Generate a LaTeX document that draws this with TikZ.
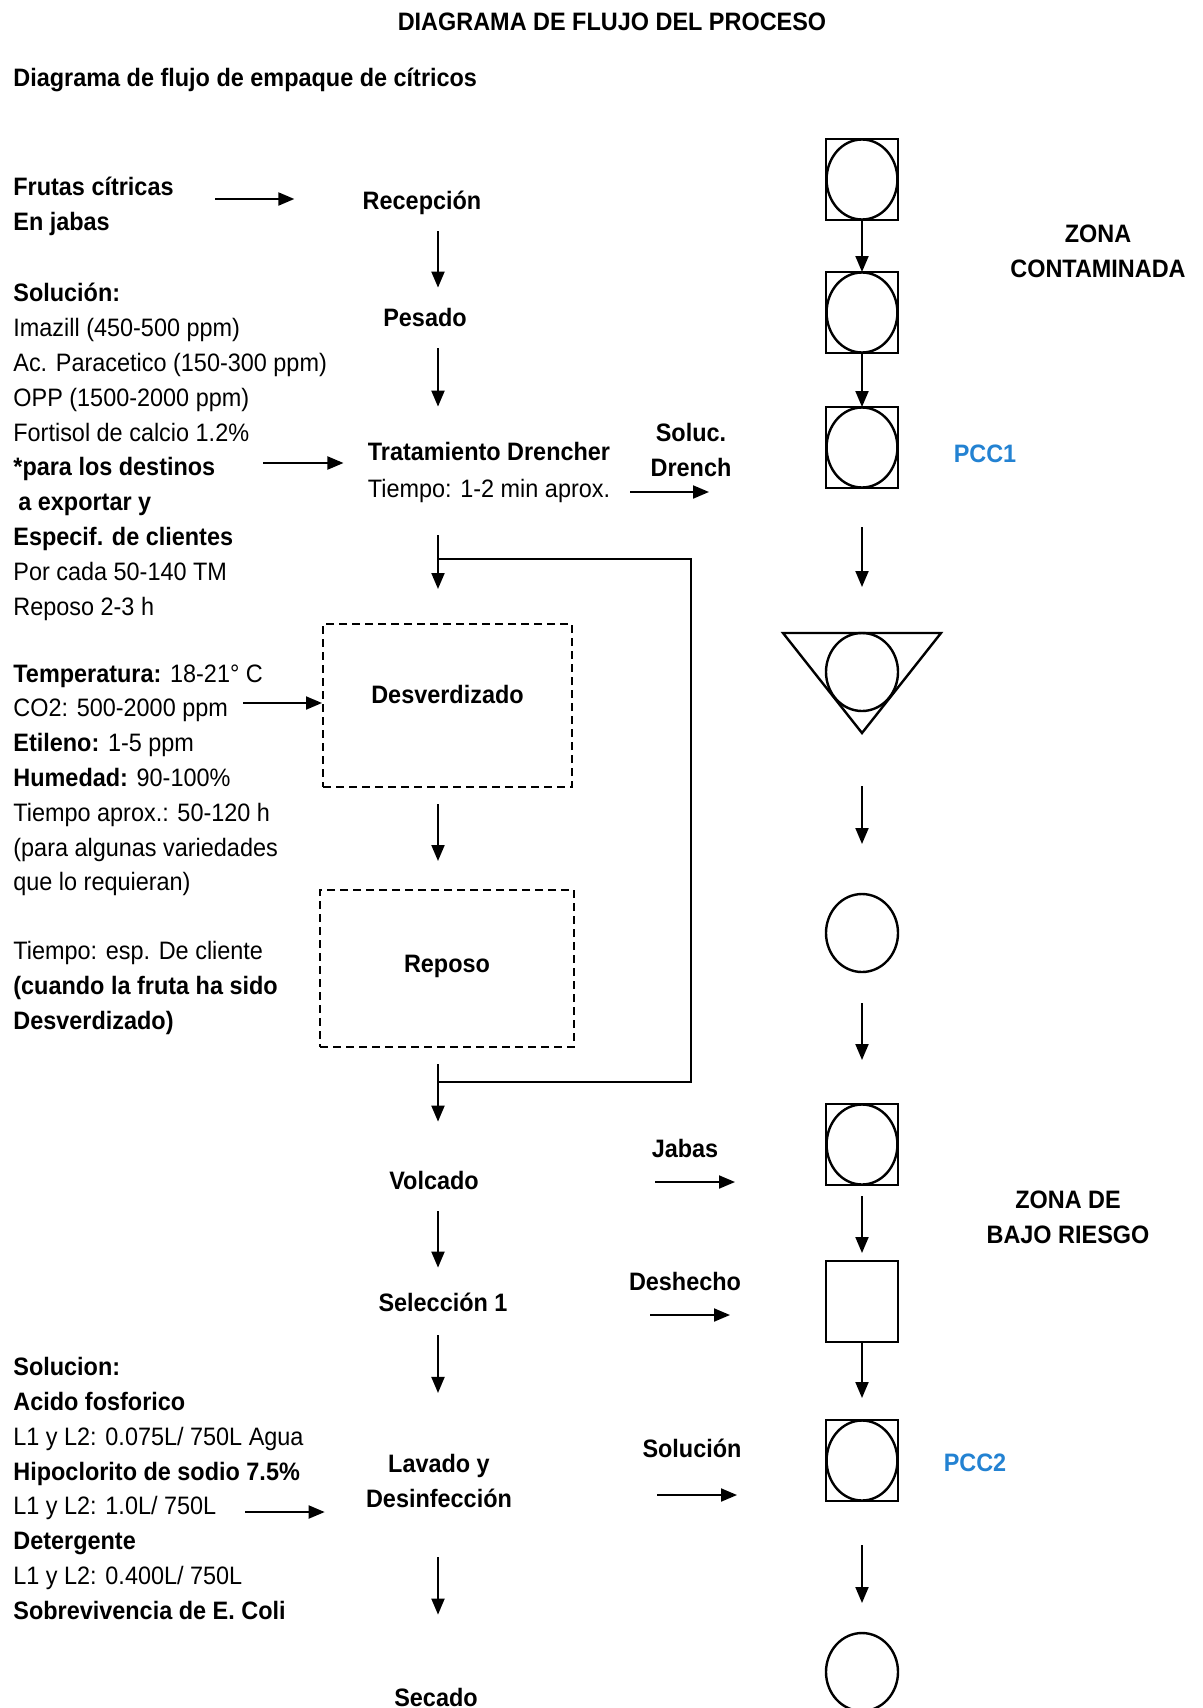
\documentclass[tikz,border=0pt]{standalone}
\usepackage{fontspec}
\setmainfont{Liberation Sans}[FakeStretch=0.93]
\usetikzlibrary{arrows.meta,positioning,shapes.geometric}
\definecolor{pccblue}{RGB}{35,130,210}
\newcommand\diafont{\fontsize{12.6pt}{17.4pt}\selectfont}

\begin{document}
\begin{tikzpicture}[
  x=0.5pt, y=-0.5pt,
  >={Triangle[length=8pt,width=6.5pt]},
  every node/.style={font=\diafont, inner sep=0pt},
  stepname/.style={font=\diafont\bfseries, text height=9pt, text depth=0pt},
  plainname/.style={text height=9pt, text depth=0pt},
  remark/.style={align=left, anchor=north west},
  chamber/.style={draw, line width=1pt, dash pattern=on 4pt off 2.5pt,
    font=\diafont\bfseries, text height=9pt},
  flow/.style={->, line width=1pt},
  clearance/.style 2 args={shorten <=#1, shorten >=#2},
  symbox/.style={draw, line width=1.2pt, minimum width=36pt,
    minimum height=40.5pt, outer sep=0pt},
  symring/.style={ellipse, draw, line width=1.2pt, minimum width=36pt,
    minimum height=39pt, outer sep=0pt},
  symcheck/.style={symbox, path picture={\draw[line width=1.2pt]
    (path picture bounding box.center) ellipse [x radius=17.7pt, y radius=20pt];}}
]
  \useasboundingbox (0,0) rectangle (1203,1708);

  % titles
  \node[font=\diafont\bfseries] (title) at (612,22) {DIAGRAMA DE FLUJO DEL PROCESO};
  \node[stepname, anchor=west] (subtitle) at (13,77) {Diagrama de flujo de empaque de cítricos};

  % inputs on the left
  \node[remark, font=\diafont\bfseries] (fruit) at (13,177) {Frutas cítricas\\En jabas};
  \node[remark] (drench-in) at (13,283) {\textbf{Solución:}\\Imazill (450-500 ppm)\\
    Ac. Paracetico (150-300 ppm)\\OPP (1500-2000 ppm)\\Fortisol de calcio 1.2\%\\
    \textbf{*para los destinos}\\\textbf{\hspace*{2.5pt}a exportar y}\\
    \textbf{Especif. de clientes}\\Por cada 50-140 TM\\Reposo 2-3 h};
  \node[remark] (degreen-in) at (13,664) {\textbf{Temperatura:} 18-21° C\\
    CO2: 500-2000 ppm\\\textbf{Etileno:} 1-5 ppm\\\textbf{Humedad:} 90-100\%\\
    Tiempo aprox.: 50-120 h\\(para algunas variedades\\que lo requieran)};
  \node[remark] (rest-in) at (13,941) {Tiempo: esp. De cliente\\
    \textbf{(cuando la fruta ha sido}\\\textbf{Desverdizado)}};
  \node[remark] (wash-in) at (13,1357) {\textbf{Solucion:}\\\textbf{Acido fosforico}\\
    L1 y L2: 0.075L/ 750L Agua\\\textbf{Hipoclorito de sodio 7.5\%}\\
    L1 y L2: 1.0L/ 750L\\\textbf{Detergente}\\L1 y L2: 0.400L/ 750L\\
    \textbf{Sobrevivencia de E. Coli}};

  % process steps
  \coordinate (axis) at (438,0);
  \node[stepname] (recep) at (422,200) {Recepción};
  \node[stepname] (weigh) at (425,317) {Pesado};
  \node[stepname] (drench) at (489,451) {Tratamiento Drencher};
  \node[plainname, below=9.5pt of drench] (drench-time) {Tiempo: 1-2 min aprox.};
  \node[chamber, minimum width=124.5pt, minimum height=81.5pt, text depth=11pt]
    (degreen) at (447.5,705.5) {Desverdizado};
  \node[chamber, minimum width=127pt, minimum height=78.5pt, text depth=5.5pt]
    (rest) at (447,968.5) {Reposo};
  \node[stepname] (dump) at (434,1180) {Volcado};
  \node[stepname] (sort) at (443,1302) {Selección 1};
  \node[font=\diafont\bfseries, align=center] (wash) at (439,1481) {Lavado y\\Desinfección};
  \node[stepname] (dry) at (436,1697) {Secado};

  \draw[flow, clearance={11pt}{10pt}] (recep.south -| axis) -- (weigh.north -| axis);
  \draw[flow, clearance={11pt}{17.5pt}] (weigh.south -| axis) -- (drench.north -| axis);
  \draw[flow, clearance={18.5pt}{17pt}] (drench-time.south -| axis) -- (degreen.north -| axis);
  \draw[flow, clearance={8pt}{14pt}] (degreen.south -| axis) -- (rest.north -| axis);
  \draw[flow, clearance={8pt}{24.5pt}] (rest.south -| axis) -- (dump.north -| axis);
  \draw[flow, clearance={11pt}{12.5pt}] (dump.south -| axis) -- (sort.north -| axis);
  \draw[flow, clearance={12pt}{30.5pt}] (sort.south -| axis) -- (wash.north -| axis);
  \draw[flow, clearance={24.5pt}{36.5pt}] (wash.south -| axis) -- (dry.north -| axis);

  % bypass round degreening
  \coordinate (split) at (438,559);
  \coordinate (merge) at (438,1082);
  \coordinate (bypass) at (691,820);
  \draw[line width=1.2pt] (split) -| (bypass) |- (merge);

  % feeds
  \coordinate (fruit-src) at (215,199);
  \coordinate (drench-src) at (263,463);
  \coordinate (degreen-src) at (243,703);
  \coordinate (wash-src) at (245,1512);
  \draw[flow, shorten >=34pt] (fruit-src) -- (fruit-src -| recep.west);
  \draw[flow, shorten >=12pt] (drench-src) -- (drench-src -| drench.west);
  \draw[flow] (degreen-src) -- (degreen-src -| degreen.west);
  \draw[flow, shorten >=20.5pt] (wash-src) -- (wash-src -| wash.west);

  % symbol column
  \node[symcheck] (recep-sym) at (862,179.5) {};
  \node[symcheck, below=26pt of recep-sym] (weigh-sym) {};
  \node[symcheck, below=27pt of weigh-sym] (drench-sym) {};
  \node[symring, below=72.5pt of drench-sym] (store-sym) {};
  \node[symring, below=91.5pt of store-sym] (rest-sym) {};
  \node[symcheck, below=66pt of rest-sym] (dump-sym) {};
  \node[symbox, below=38pt of dump-sym] (sort-sym) {};
  \node[symcheck, below=39pt of sort-sym] (wash-sym) {};
  \node[symring, below=66pt of wash-sym] (dry-sym) {};
  \draw[line width=1.2pt, line join=miter] ([xshift=-39.5pt]store-sym.north)
    -- ([xshift=39.5pt]store-sym.north) -- ([yshift=-11pt]store-sym.south) -- cycle;

  \draw[flow] (recep-sym) -- (weigh-sym);
  \draw[flow] (weigh-sym) -- (drench-sym);
  \draw[flow, clearance={19.5pt}{23pt}] (drench-sym) -- (store-sym);
  \draw[flow, clearance={37.5pt}{25pt}] (store-sym) -- (rest-sym);
  \draw[flow, clearance={15.5pt}{22pt}] (rest-sym) -- (dump-sym);
  \draw[flow, clearance={5.5pt}{4pt}] (dump-sym) -- (sort-sym);
  \draw[flow, clearance={0pt}{11pt}] (sort-sym) -- (wash-sym);
  \draw[flow, clearance={22pt}{15pt}] (wash-sym) -- (dry-sym);

  % side streams
  \node[font=\diafont\bfseries, align=center] (drench-sol) at (691,450) {Soluc.\\Drench};
  \node[stepname] (crates) at (685,1148) {Jabas};
  \node[stepname] (waste) at (685,1281) {Deshecho};
  \node[stepname] (wash-sol) at (692,1448) {Solución};
  \coordinate (drench-out) at (630,492);
  \coordinate (crates-src) at (655,1182);
  \coordinate (waste-src) at (650,1315);
  \coordinate (sol-src) at (657,1495);
  \draw[flow, shorten >=58.5pt] (drench-out) -- (drench-out -| drench-sym.west);
  \draw[flow, shorten >=45.5pt] (crates-src) -- (crates-src -| dump-sym.west);
  \draw[flow, shorten >=48pt] (waste-src) -- (waste-src -| sort-sym.west);
  \draw[flow, shorten >=44.5pt] (sol-src) -- (sol-src -| wash-sym.west);

  % zones and control points
  \node[font=\diafont\bfseries, align=center] (zone-dirty) at (1098,251) {ZONA\\CONTAMINADA};
  \node[font=\diafont\bfseries, align=center] (zone-low) at (1068,1217) {ZONA DE\\BAJO RIESGO};
  \node[stepname, text=pccblue] (pcc1) at (985,453) {PCC1};
  \node[stepname, text=pccblue] (pcc2) at (975,1462) {PCC2};
\end{tikzpicture}
\end{document}
